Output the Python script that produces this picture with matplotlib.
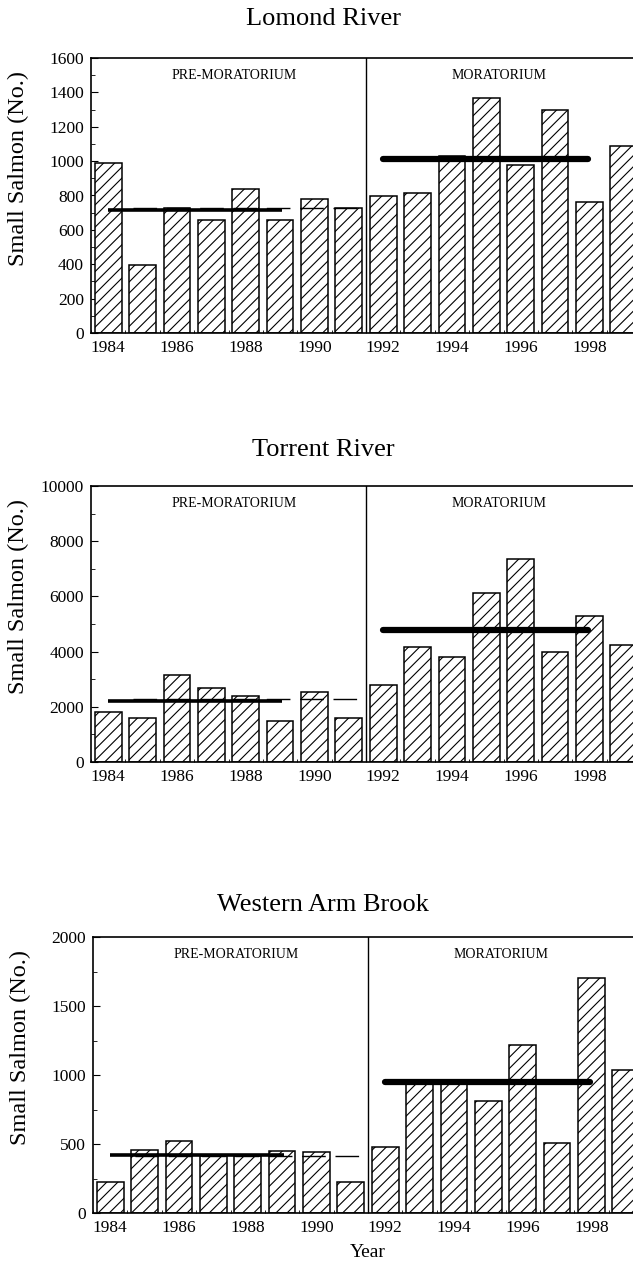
import matplotlib
matplotlib.use("Agg")
import matplotlib.pyplot as plt
from matplotlib.ticker import MultipleLocator

plt.rcParams["font.family"] = ["Liberation Serif", "DejaVu Serif"]
plt.rcParams["hatch.linewidth"] = 0.8

years = list(range(1984, 2000))
rivers = ["Lomond River", "Torrent River", "Western Arm Brook"]

lomond = [990, 395, 725, 655, 840, 655, 780, 730, 795, 815, 1030, 1365, 975, 1300, 760, 1090]
torrent = [1800, 1600, 3150, 2670, 2400, 1500, 2530, 1580, 2780, 4180, 3800, 6130, 7340, 3970, 5280, 4250]
western_arm = [225, 460, 525, 415, 415, 450, 440, 225, 477, 945, 945, 812, 1220, 506, 1705, 1035]

# means drawn as horizontal bars: pre-moratorium (thick + dashed), moratorium
pre_mean = [718, 2215, 420]
pre_mean_dashed = [727, 2290, 410]
mor_mean = [1012, 4780, 950]

y_max = [1600, 10000, 2000]
y_major = [200, 2000, 500]
y_minor = [100, 1000, 250]

counts = [lomond, torrent, western_arm]

W, H = 633, 1261
fig = plt.figure(figsize=(W / 100, H / 100), dpi=100)

# axes boxes in pixels: left, top, bottom (right runs off the page)
boxes = [(91, 58, 333), (91, 486, 762), (93, 937, 1213)]
title_y = [19, 450, 905]
ax_w = 550

for i, (left, top, bottom) in enumerate(boxes):
    ax = fig.add_axes([left / W, (H - bottom) / H, ax_w / W, (bottom - top) / H])
    ax.bar(years, counts[i], width=0.78, color="white", edgecolor="black",
           hatch="///", linewidth=1.1, zorder=2)
    ax.axvline(1991.5, color="black", lw=1.0, zorder=3)

    ax.plot([1984.72, 1991.35], [pre_mean_dashed[i]] * 2, color="black", lw=1.0,
            dashes=(17, 7), zorder=4)
    ax.plot([1984.0, 1989.05], [pre_mean[i]] * 2, color="black", lw=2.6,
            solid_capstyle="butt", zorder=5)
    ax.plot([1992.0, 1997.95], [mor_mean[i]] * 2, color="black", lw=4.5,
            solid_capstyle="round", zorder=5)

    ax.set_xlim(1983.5, 1999.5)
    ax.set_ylim(0, y_max[i])
    ax.set_xticks(years[::2])
    ax.xaxis.set_minor_locator(MultipleLocator(1, offset=0.5))
    ax.yaxis.set_major_locator(MultipleLocator(y_major[i]))
    ax.yaxis.set_minor_locator(MultipleLocator(y_minor[i]))
    ax.tick_params(axis="both", which="both", direction="in", labelsize=12.5,
                   top=False, right=False)
    ax.tick_params(axis="y", which="major", length=5, pad=5)
    ax.tick_params(axis="y", which="minor", length=3)
    ax.tick_params(axis="x", which="major", length=0, pad=5)
    ax.tick_params(axis="x", which="minor", length=2.5)
    for s in ax.spines.values():
        s.set_linewidth(1.2)

    ax.set_ylabel("Small Salmon (No.)", fontsize=17.5)
    ax.yaxis.set_label_coords(-0.112, 0.6)

    ax.text(1987.65, 0.935 * y_max[i], "PRE-MORATORIUM", fontsize=10,
            ha="center", va="center")
    ax.text(1995.37, 0.935 * y_max[i], "MORATORIUM", fontsize=10,
            ha="center", va="center")

    fig.text(323 / W, 1 - title_y[i] / H, rivers[i], fontsize=19,
             ha="center", va="center")

    if i == 2:
        ax.set_xlabel("Year", fontsize=14, labelpad=6)

fig.savefig("out.png", dpi=100)
